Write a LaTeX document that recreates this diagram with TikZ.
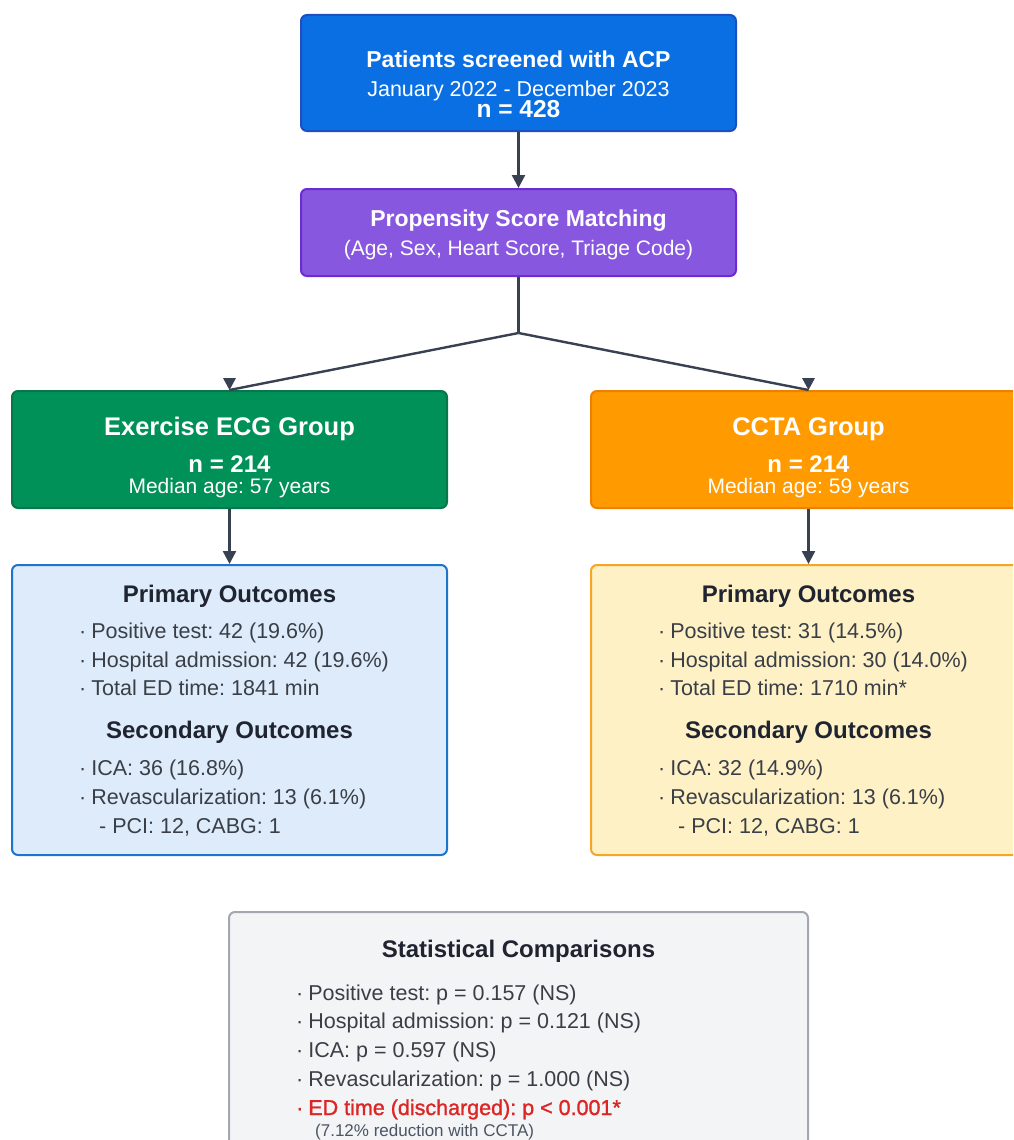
\documentclass[tikz,border=0pt]{standalone}
\usepackage{fontspec}
\setsansfont{Liberation Sans}
\newfontfamily\semibold[FakeBold=1.3]{Liberation Sans}
\usetikzlibrary{arrows.meta}
\frenchspacing

\definecolor{screenfill}{HTML}{0A6FE3}
\definecolor{screenline}{HTML}{1E4FC0}
\definecolor{matchfill}{HTML}{8758DF}
\definecolor{matchline}{HTML}{6D2BD2}
\definecolor{ecgfill}{HTML}{009158}
\definecolor{ecgline}{HTML}{05774A}
\definecolor{cctafill}{HTML}{FF9B00}
\definecolor{cctaline}{HTML}{EE8000}
\definecolor{ecgsoft}{HTML}{DDEBFA}
\definecolor{ecgsoftline}{HTML}{1C74CC}
\definecolor{cctasoft}{HTML}{FEF1C6}
\definecolor{cctasoftline}{HTML}{F7A623}
\definecolor{statfill}{HTML}{F3F4F6}
\definecolor{statline}{HTML}{A2A7B0}
\definecolor{arrowc}{HTML}{374151}
\definecolor{headc}{HTML}{1F2430}
\definecolor{bodyc}{HTML}{3A3F47}
\definecolor{notec}{HTML}{4B5563}
\definecolor{sigred}{HTML}{DC2626}

\newcommand{\fs}[1]{\fontsize{#1}{#1}\selectfont}
\newcommand{\bul}{\textperiodcentered\hspace{5pt}}

\begin{document}
\frenchspacing
\begin{tikzpicture}[x=1pt, y=-1pt, every node/.style={font=\sffamily, inner sep=0pt},
    box/.style={rectangle, rounded corners=6pt, line width=2pt, minimum width=435pt},
    link/.style={draw=arrowc, line width=2.4pt},
    tip/.style={-{Triangle[length=13pt,width=13pt]}},
    title/.style={font=\sffamily\bfseries\fs{23}, text=white, anchor=base},
    sub/.style={font=\sffamily\fs{21}, text=white, anchor=base},
    head/.style={font=\sffamily\bfseries\fs{24}, text=headc, anchor=base},
    item/.style={font=\sffamily\fs{21.5}, text=bodyc, anchor=base west}]
  \useasboundingbox (0,0) rectangle (1013,1140);
  \clip (0,0) rectangle (1013,1140);

  % Boxes
  \node[box, fill=screenfill, draw=screenline, minimum height=116pt] (screen) at (518.5, 73) {};
  \node[box, fill=matchfill, draw=matchline, minimum height=87pt] (match) at (518.5, 232.5) {};
  \node[box, fill=ecgfill, draw=ecgline, minimum height=117pt] (ecg) at (229.5, 449.5) {};
  \node[box, fill=cctafill, draw=cctaline, minimum height=117pt] (ccta) at (808.5, 449.5) {};
  \node[box, fill=ecgsoft, draw=ecgsoftline, minimum height=290pt] (ecgout) at (229.5, 710) {};
  \node[box, fill=cctasoft, draw=cctasoftline, minimum height=290pt] (cctaout) at (808.5, 710) {};
  \node[box, fill=statfill, draw=statline, minimum width=579pt, minimum height=258pt] (stats) at (518.5, 1041) {};

  % Connectors
  \coordinate (split) at (518.5, 333);
  \draw[link, tip] (screen) -- (match);
  \draw[link] (match) -- (split);
  \draw[link] (split) -- (ecg.north);
  \draw[link] (split) -- (ccta.north);
  \fill[arrowc] (ecg.north) -- ++(-6.5,-12) -- ++(13,0) -- cycle;
  \fill[arrowc] (ccta.north) -- ++(-6.5,-12) -- ++(13,0) -- cycle;
  \draw[link, tip] (ecg) -- (ecgout);
  \draw[link, tip] (ccta) -- (cctaout);

  % Screening and matching text
  \node[title] (screent) at (518.5, 67) {Patients screened with ACP};
  \node[sub, font=\sffamily\fs{21.5}] (screend) at (518.5, 96) {January 2022 - December 2023};
  \node[title, font=\sffamily\bfseries\fs{24.5}] (screenn) at (518.5, 117.5) {n = 428};
  \node[title] (matcht) at (518.5, 226) {Propensity Score Matching};
  \node[sub] (matchd) at (518.5, 255) {(Age, Sex, Heart Score, Triage Code)};

  % Group text
  \node[title, font=\sffamily\bfseries\fs{25.5}] (ecgt) at (229.5, 435) {Exercise ECG Group};
  \node[title, font=\sffamily\bfseries\fs{24}] (ecgn) at (229.5, 472) {n = 214};
  \node[sub] (ecga) at (229.5, 493) {Median age: 57 years};
  \node[title, font=\sffamily\bfseries\fs{25.5}] (cctat) at (808.5, 435) {CCTA Group};
  \node[title, font=\sffamily\bfseries\fs{24}] (cctan) at (808.5, 472) {n = 214};
  \node[sub] (cctaa) at (808.5, 493) {Median age: 59 years};

  % Exercise ECG outcomes
  \node[head] (ecgprim) at (229.5, 602) {Primary Outcomes};
  \node[item] (ecgp1) at (79, 638) {\bul Positive test: 42 (19.6\%)};
  \node[item] (ecgp2) at (79, 667) {\bul Hospital admission: 42 (19.6\%)};
  \node[item] (ecgp3) at (79, 695) {\bul Total ED time: 1841 min};
  \node[head] (ecgsec) at (229.5, 738) {Secondary Outcomes};
  \node[item] (ecgs1) at (79, 775) {\bul ICA: 36 (16.8\%)};
  \node[item] (ecgs2) at (79, 804) {\bul Revascularization: 13 (6.1\%)};
  \node[item] (ecgs3) at (99, 833) {- PCI: 12, CABG: 1};

  % CCTA outcomes
  \node[head] (cctaprim) at (808.5, 602) {Primary Outcomes};
  \node[item] (cctap1) at (658, 638) {\bul Positive test: 31 (14.5\%)};
  \node[item] (cctap2) at (658, 667) {\bul Hospital admission: 30 (14.0\%)};
  \node[item] (cctap3) at (658, 695) {\bul Total ED time: 1710 min*};
  \node[head] (cctasec) at (808.5, 738) {Secondary Outcomes};
  \node[item] (cctas1) at (658, 775) {\bul ICA: 32 (14.9\%)};
  \node[item] (cctas2) at (658, 804) {\bul Revascularization: 13 (6.1\%)};
  \node[item] (cctas3) at (678, 833) {- PCI: 12, CABG: 1};

  % Statistical comparisons
  \node[head] (statt) at (518.5, 957) {Statistical Comparisons};
  \node[item] (stat1) at (296, 1000) {\bul Positive test: p = 0.157 (NS)};
  \node[item] (stat2) at (296, 1028) {\bul Hospital admission: p = 0.121 (NS)};
  \node[item] (stat3) at (296, 1057) {\bul ICA: p = 0.597 (NS)};
  \node[item] (stat4) at (296, 1086) {\bul Revascularization: p = 1.000 (NS)};
  \node[item, font=\semibold\fs{21.5}, text=sigred] (stat5) at (296, 1115) {\bul ED time (discharged): p < 0.001*};
  \node[item, font=\sffamily\fs{17}, text=notec] (stat6) at (315, 1136) {(7.12\% reduction with CCTA)};
\end{tikzpicture}
\end{document}
